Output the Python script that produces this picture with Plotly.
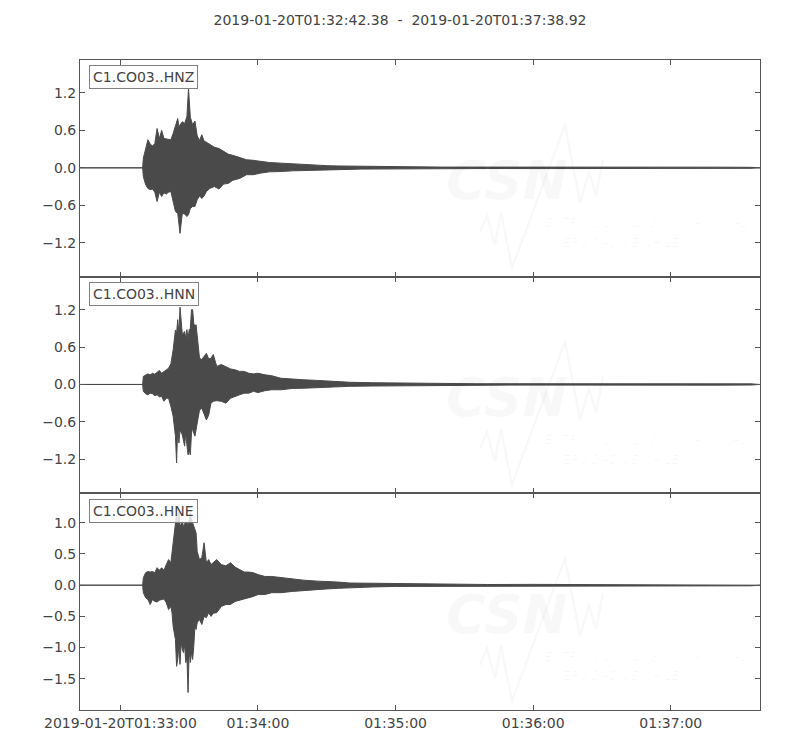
import plotly.graph_objects as go
from plotly.subplots import make_subplots
import pandas as pd

# ---------------- data (seconds relative to 2019-01-20T01:33:00) ----------------
REF_TIME = pd.Timestamp("2019-01-20 01:33:00")
START_S = -17.62   # 01:32:42.38
END_S = 278.92     # 01:37:38.92
TITLE = "2019-01-20T01:32:42.38  -  2019-01-20T01:37:38.92"

channels = ["C1.CO03..HNZ", "C1.CO03..HNN", "C1.CO03..HNE"]

hnz_t = [9.7, 10, 11, 12, 13, 14, 15, 16, 17, 18, 19, 20, 21, 22, 23, 24, 25, 25.5, 26, 27,
         28, 29, 29.7, 30.5, 31.5, 32.5, 33.5, 34.5, 35.5, 36.5, 37.5, 39, 41, 43, 45, 47, 49, 52, 55, 58,
         61, 65, 70, 75, 80, 86, 90, 95, 100, 105, 110, 120, 140, 160, 180, 200, 220, 240, 260, 275]
hnz_up = [0, 0.155, 0.30, 0.45, 0.38, 0.35, 0.39, 0.63, 0.47, 0.60, 0.47, 0.46, 0.45, 0.45, 0.55, 0.69, 0.79, 0.66, 0.69, 0.74,
          0.71, 0.82, 1.27, 0.81, 0.69, 0.75, 0.51, 0.44, 0.53, 0.43, 0.41, 0.37, 0.33, 0.31, 0.26, 0.22, 0.20, 0.17, 0.13, 0.12,
          0.10, 0.085, 0.075, 0.064, 0.053, 0.037, 0.035, 0.03, 0.028, 0.022, 0.018, 0.014, 0.012, 0.012, 0.014, 0.011, 0.012, 0.01, 0.011, 0.008]
hnz_lo = [0, -0.139, -0.27, -0.33, -0.35, -0.34, -0.39, -0.54, -0.39, -0.46, -0.40, -0.42, -0.39, -0.38, -0.54, -0.70, -0.73, -0.91, -1.05, -0.73,
          -0.74, -0.78, -0.75, -0.65, -0.62, -0.62, -0.51, -0.45, -0.49, -0.45, -0.38, -0.33, -0.30, -0.34, -0.26, -0.25, -0.20, -0.17, -0.11, -0.11,
          -0.085, -0.064, -0.059, -0.048, -0.037, -0.032, -0.03, -0.028, -0.025, -0.02, -0.016, -0.012, -0.011, -0.011, -0.012, -0.01, -0.011, -0.009, -0.01, -0.008]

hnn_t = [9.7, 10, 11, 12, 13, 14, 15, 16, 17, 18, 19, 20, 21, 22, 23, 24, 24.5, 25, 25.5, 26,
         27, 28, 28.5, 29, 29.5, 30, 30.5, 31, 31.5, 32, 32.5, 33, 33.5, 34.5, 35.5, 36.5, 37.5, 38.5, 39.5, 40.5,
         42, 44, 46, 48, 50, 52, 54, 56, 58, 60, 63, 66, 70, 75, 80, 86, 90, 95, 100, 110,
         120, 130, 140, 155, 170, 190, 216, 230, 245, 260, 275]
hnn_up = [0, 0.13, 0.155, 0.17, 0.155, 0.18, 0.165, 0.19, 0.225, 0.18, 0.21, 0.235, 0.26, 0.33, 0.555, 0.875, 0.82, 1.04, 0.82, 1.24,
          0.80, 0.85, 0.74, 0.88, 0.72, 0.88, 0.90, 1.20, 1.20, 0.98, 0.93, 0.96, 0.74, 0.42, 0.40, 0.46, 0.50, 0.41, 0.42, 0.48,
          0.29, 0.32, 0.29, 0.25, 0.235, 0.21, 0.21, 0.18, 0.17, 0.18, 0.155, 0.14, 0.10, 0.085, 0.075, 0.065, 0.055, 0.045, 0.035, 0.028,
          0.022, 0.02, 0.017, 0.012, 0.012, 0.011, 0.02, 0.014, 0.015, 0.012, 0.01]
hnn_lo = [0, -0.11, -0.15, -0.165, -0.14, -0.15, -0.18, -0.165, -0.20, -0.19, -0.27, -0.22, -0.22, -0.35, -0.51, -0.83, -1.26, -0.67, -0.94, -0.73,
          -0.81, -0.99, -0.78, -0.97, -1.13, -1.05, -1.13, -0.78, -0.70, -0.78, -0.83, -0.73, -0.65, -0.41, -0.38, -0.46, -0.57, -0.49, -0.30, -0.27,
          -0.26, -0.27, -0.30, -0.22, -0.19, -0.165, -0.14, -0.14, -0.11, -0.13, -0.10, -0.085, -0.085, -0.064, -0.06, -0.05, -0.05, -0.04, -0.03, -0.025,
          -0.02, -0.018, -0.015, -0.011, -0.01, -0.01, -0.012, -0.012, -0.013, -0.011, -0.009]

hne_t = [9.7, 10, 11, 12, 13, 14, 15, 16, 17, 18, 19, 20, 21, 22, 22.5, 23, 24, 24.5, 25, 25.5,
         26, 26.5, 27, 27.5, 28, 28.5, 29, 29.5, 30, 30.5, 31, 31.5, 32, 32.5, 33, 33.5, 34.5, 35.5, 36.5, 37.5,
         38.5, 39.5, 40.5, 42, 44, 46, 48, 50, 52, 54, 56, 58, 60, 63, 66, 70, 75, 80, 86, 90,
         95, 100, 110, 120, 130, 145, 160, 180, 200, 220, 245, 260, 275]
hne_up = [0, 0.12, 0.20, 0.22, 0.21, 0.22, 0.20, 0.28, 0.24, 0.28, 0.24, 0.33, 0.41, 0.36, 0.52, 0.60, 1.0, 1.15, 0.94, 1.18,
          0.94, 1.0, 1.02, 0.94, 0.99, 1.02, 1.0, 0.97, 1.05, 1.15, 1.05, 1.0, 0.94, 0.89, 0.84, 0.54, 0.41, 0.44, 0.68, 0.36,
          0.41, 0.33, 0.36, 0.41, 0.33, 0.31, 0.36, 0.29, 0.25, 0.21, 0.21, 0.20, 0.17, 0.14, 0.14, 0.12, 0.10, 0.08, 0.065, 0.06,
          0.05, 0.035, 0.03, 0.022, 0.016, 0.012, 0.011, 0.013, 0.011, 0.012, 0.014, 0.012, 0.01]
hne_lo = [0, -0.12, -0.20, -0.23, -0.31, -0.23, -0.26, -0.27, -0.24, -0.23, -0.22, -0.28, -0.39, -0.34, -0.44, -0.66, -0.87, -1.30, -1.19, -0.98,
          -1.27, -0.92, -1.03, -1.08, -0.95, -1.24, -1.14, -1.72, -1.03, -1.24, -1.08, -1.19, -0.98, -0.66, -0.71, -0.60, -0.55, -0.63, -0.50, -0.52,
          -0.44, -0.50, -0.45, -0.44, -0.34, -0.31, -0.31, -0.26, -0.24, -0.23, -0.20, -0.18, -0.15, -0.15, -0.12, -0.12, -0.10, -0.08, -0.07, -0.06,
          -0.05, -0.035, -0.028, -0.02, -0.014, -0.011, -0.01, -0.012, -0.01, -0.011, -0.012, -0.011, -0.01]

y_ranges = [[-1.744, 1.728], [-1.747, 1.73], [-2.0, 1.472]]
y_ticks = [[-1.2, -0.6, 0.0, 0.6, 1.2], [-1.2, -0.6, 0.0, 0.6, 1.2], [-1.5, -1.0, -0.5, 0.0, 0.5, 1.0]]
x_tick_secs = [0, 60, 120, 180, 240]
x_tick_text = ["2019-01-20T01:33:00", "01:34:00", "01:35:00", "01:36:00", "01:37:00"]

# ---------------- styling ----------------
TRACE_COLOR = "#4a4a4a"
TEXT_COLOR = "#444444"
AXIS_COLOR = "#555555"
FONT = "DejaVu Sans"
FS = 14
WM_COLOR = "rgba(0,0,0,0.028)"


def to_dt(secs):
    return [REF_TIME + pd.Timedelta(seconds=s) for s in secs]


def polygon(times, up, lo):
    xs = [START_S] + times + [END_S, END_S] + times[::-1] + [START_S]
    ys = [0] + up + [0, 0] + lo[::-1] + [0]
    return to_dt(xs), ys


fig = make_subplots(rows=3, cols=1, shared_xaxes=True, vertical_spacing=0)

# page body has an 8px margin: shrink the figure so the plot area lands where the reference has it
PAGE_OFF = 8
W, H = 800 - PAGE_OFF, 750 - PAGE_OFF
ML, MR, MT, MB = 80 - PAGE_OFF, 40, 60 - PAGE_OFF, 40
pw, ph = W - ML - MR, H - MT - MB
panel_h = ph / 3.0


def paper_xy(px, py):
    # px, py are page pixel positions
    return (px - PAGE_OFF - ML) / pw, (H - MB - (py - PAGE_OFF)) / ph


# faint watermark (drawn first, below the traces)
for i in range(3):
    off = i * panel_h
    x, y = paper_xy(507, 181 + off)
    fig.add_annotation(text="CSN", xref="paper", yref="paper", x=x, y=y, showarrow=False,
                       xanchor="center", yanchor="middle",
                       font=dict(family=FONT, size=54, color=WM_COLOR, weight="bold", style="italic"))
    x, y = paper_xy(533, 223 + off)
    fig.add_annotation(text="CENTRO SISMOLÓGICO NACIONAL", xref="paper", yref="paper", x=x, y=y,
                       xanchor="left", yanchor="middle", showarrow=False,
                       font=dict(family="Liberation Sans", size=12.5, color=WM_COLOR, style="italic"))
    x, y = paper_xy(531, 243 + off)
    fig.add_annotation(text="UNIVERSIDAD DE CHILE", xref="paper", yref="paper", x=x, y=y,
                       xanchor="left", yanchor="middle", showarrow=False,
                       font=dict(family="Liberation Sans", size=12.5, color=WM_COLOR, style="italic"))
    pts = [(480, 232), (487, 215), (495, 245), (501, 212), (512, 268), (565, 125),
           (580, 203), (589, 172), (596, 196), (603, 160)]
    path = ""
    for k, (px, py) in enumerate(pts):
        xx, yy = paper_xy(px, py + off)
        path += ("M" if k == 0 else " L") + f" {xx:.4f},{yy:.4f}"
    fig.add_shape(type="path", path=path, xref="paper", yref="paper",
                  line=dict(color=WM_COLOR, width=2.5), layer="below")

series = [(hnz_t, hnz_up, hnz_lo), (hnn_t, hnn_up, hnn_lo), (hne_t, hne_up, hne_lo)]
for i, (t, up, lo) in enumerate(series):
    xs, ys = polygon(t, up, lo)
    fig.add_trace(go.Scatter(x=xs, y=ys, mode="lines", fill="toself",
                             fillcolor=TRACE_COLOR, line=dict(color=TRACE_COLOR, width=1),
                             hoverinfo="skip", showlegend=False), row=i + 1, col=1)

x_range = to_dt([START_S, END_S])
for i in range(3):
    fig.update_xaxes(row=i + 1, col=1, type="date", range=x_range,
                     tickvals=to_dt(x_tick_secs), ticktext=x_tick_text,
                     showticklabels=(i == 2), ticks="inside", ticklen=5, tickcolor=AXIS_COLOR,
                     showline=True, linecolor=AXIS_COLOR, linewidth=1, mirror="ticks",
                     showgrid=False, zeroline=False,
                     tickfont=dict(family=FONT, size=FS, color=TEXT_COLOR))
    fig.update_yaxes(row=i + 1, col=1, range=y_ranges[i], tickvals=y_ticks[i], tickformat=".1f",
                     ticks="inside", ticklen=5, tickcolor=AXIS_COLOR,
                     showline=True, linecolor=AXIS_COLOR, linewidth=1, mirror="ticks",
                     showgrid=False, zeroline=False,
                     tickfont=dict(family=FONT, size=FS, color=TEXT_COLOR))

for i, name in enumerate(channels):
    xr = "x domain" if i == 0 else f"x{i + 1} domain"
    yr = "y domain" if i == 0 else f"y{i + 1} domain"
    fig.add_annotation(text=name, xref=xr, yref=yr, x=0.013, y=0.975,
                       xanchor="left", yanchor="top", showarrow=False,
                       font=dict(family=FONT, size=FS, color=TEXT_COLOR),
                       bgcolor="rgba(255,255,255,0.8)", bordercolor="#808080",
                       borderwidth=1, borderpad=3)

fig.update_layout(
    width=W, height=H,
    margin=dict(l=ML, r=MR, t=MT, b=MB),
    paper_bgcolor="white", plot_bgcolor="white",
    title=dict(text=TITLE, x=(400 - PAGE_OFF) / W, xanchor="center",
               y=1 - (20 - PAGE_OFF) / H, yanchor="middle",
               font=dict(family=FONT, size=FS, color=TEXT_COLOR)),
    showlegend=False,
)

fig.write_html("out.html")
